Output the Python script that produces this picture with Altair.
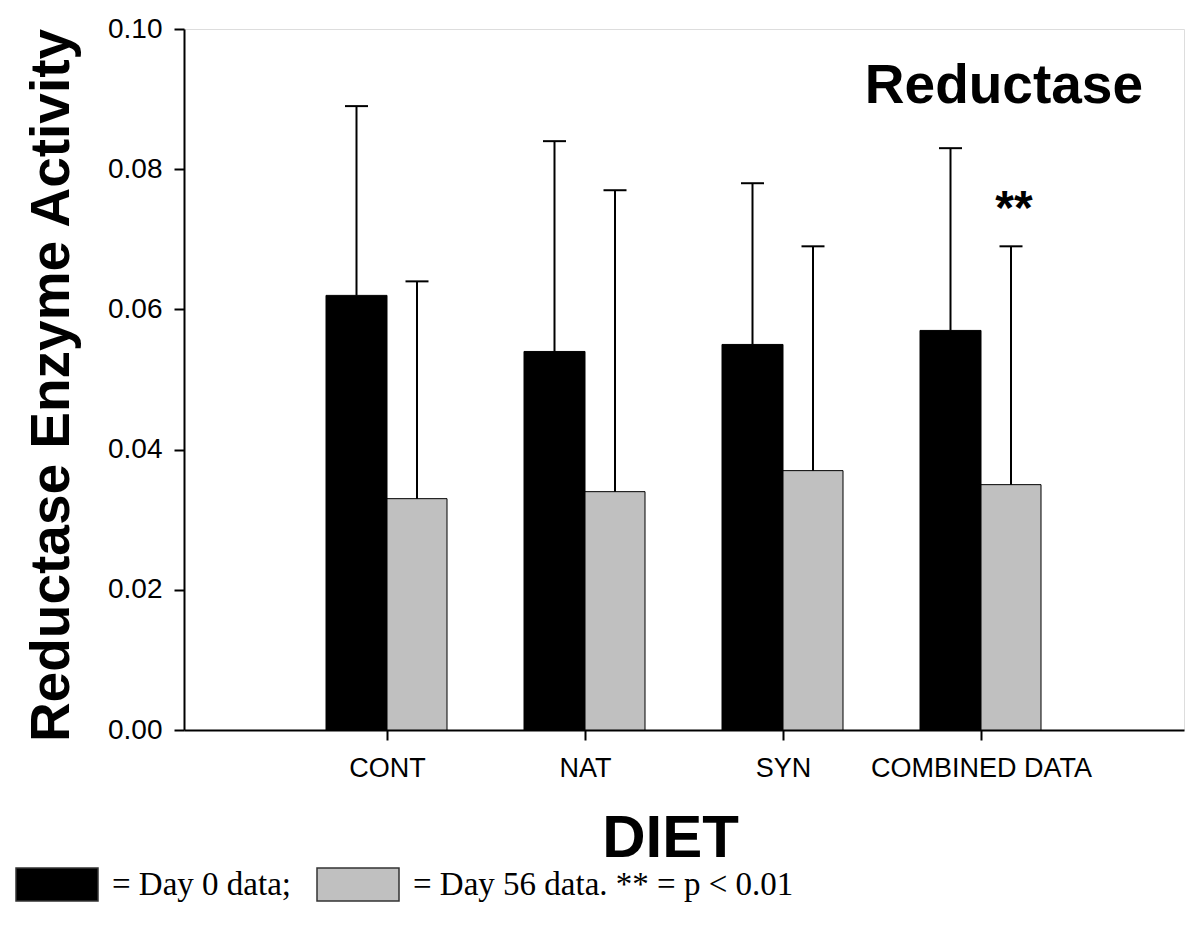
import altair as alt
import pandas as pd

categories = ["CONT", "NAT", "SYN", "COMBINED DATA"]
positions = [1, 2, 3, 4]
series_names = ["Day 0", "Day 56"]
legend_labels = ["= Day 0 data;", "= Day 56 data. ** = p < 0.01"]
day0_mean = [0.062, 0.054, 0.055, 0.057]
day0_upper = [0.089, 0.084, 0.078, 0.083]
day56_mean = [0.033, 0.034, 0.037, 0.035]
day56_upper = [0.064, 0.077, 0.069, 0.069]
y_ticks = [0.0, 0.02, 0.04, 0.06, 0.08, 0.10]
sig_category = "COMBINED DATA"
sig_label = "**"
panel_title = "Reductase"

rows = []
for i, c in enumerate(categories):
    rows.append({"cat": c, "pos": positions[i], "series": series_names[0],
                 "value": day0_mean[i], "upper": day0_upper[i]})
    rows.append({"cat": c, "pos": positions[i], "series": series_names[1],
                 "value": day56_mean[i], "upper": day56_upper[i]})
df = pd.DataFrame(rows)
sig_df = df[(df["cat"] == sig_category) & (df["series"] == series_names[1])].assign(label=sig_label)
title_df = pd.DataFrame({"label": [panel_title]})

FONT = "Liberation Sans"

label_expr = " : ".join(
    [f"datum.value == {p} ? '{c}'" for p, c in zip(positions, categories)]
) + " : ''"
legend_expr = f"datum.label == '{series_names[0]}' ? '{legend_labels[0]}' : '{legend_labels[1]}'"

x = alt.X(
    "pos:Q",
    scale=alt.Scale(domain=[0, 5], nice=False, zero=False),
    axis=alt.Axis(
        title="DIET", values=positions, labelExpr=label_expr, grid=False,
        labelFont=FONT, labelFontSize=27, labelColor="black", labelPadding=15,
        labelLimit=500,
        tickSize=10, tickWidth=2, tickColor="black",
        domainColor="black", domainWidth=2,
        titleFont=FONT, titleFontSize=60, titleFontWeight="bold", titleColor="black",
        titleX=486, titleY=126, titleBaseline="alphabetic", titleAlign="center",
    ),
)
y_axis = alt.Axis(
    title="Reductase Enzyme Activity", values=y_ticks, format=".2f", grid=False,
    labelFont=FONT, labelFontSize=28, labelColor="black", labelPadding=12,
    tickSize=10, tickWidth=2, tickColor="black",
    domainColor="black", domainWidth=2,
    titleFont=FONT, titleFontSize=55, titleFontWeight="bold", titleColor="black",
    titleX=-116, titleY=356, titleBaseline="alphabetic", titleAlign="center", titleAngle=-90,
)
y = alt.Y("value:Q", scale=alt.Scale(domain=[0, 0.1], nice=False), axis=y_axis)

color = alt.Color(
    "series:N",
    scale=alt.Scale(domain=series_names, range=["#000000", "#c0c0c0"]),
    legend=alt.Legend(
        title=None, orient="none", direction="horizontal",
        legendX=-169, legendY=838,
        symbolType="M-1,-1H3.97V1H-1Z", symbolSize=1089,
        symbolStrokeColor="#333333", symbolStrokeWidth=1.5, symbolOpacity=1,
        labelExpr=legend_expr, labelFont="Liberation Serif", labelFontSize=33,
        labelColor="black", labelOffset=62, labelLimit=800, columnPadding=23,
        labelBaseline="middle",
    ),
)

base = alt.Chart(df)
bar0 = base.transform_filter(alt.datum.series == series_names[0]).mark_bar(
    width=61, xOffset=-30.5, stroke="black", strokeWidth=1
).encode(x=x, y=y, color=color)
bar1 = base.transform_filter(alt.datum.series == series_names[1]).mark_bar(
    width=60, xOffset=30, stroke="black", strokeWidth=1
).encode(x=x, y=y, color=color)

err0 = base.transform_filter(alt.datum.series == series_names[0]).mark_rule(
    xOffset=-30.5, strokeWidth=2, color="black"
).encode(x=x, y=y, y2="upper:Q")
err1 = base.transform_filter(alt.datum.series == series_names[1]).mark_rule(
    xOffset=30, strokeWidth=2, color="black"
).encode(x=x, y=y, y2="upper:Q")
cap0 = base.transform_filter(alt.datum.series == series_names[0]).mark_tick(
    orient="horizontal", xOffset=-30.5, size=23, thickness=2, color="black", opacity=1
).encode(x=x, y=alt.Y("upper:Q"))
cap1 = base.transform_filter(alt.datum.series == series_names[1]).mark_tick(
    orient="horizontal", xOffset=30, size=23, thickness=2, color="black", opacity=1
).encode(x=x, y=alt.Y("upper:Q"))

sig = alt.Chart(sig_df).mark_text(
    xOffset=33, dy=-22, baseline="alphabetic", align="center",
    font=FONT, fontSize=48, fontWeight="bold", color="black"
).encode(x=x, y=alt.Y("upper:Q"), text="label:N")

title_text = alt.Chart(title_df).mark_text(
    align="right", baseline="alphabetic",
    font=FONT, fontSize=55, fontWeight="bold", color="black"
).encode(x=alt.value(959), y=alt.value(74), text="label:N")

chart = alt.layer(bar0, bar1, err0, err1, cap0, cap1, sig, title_text).properties(
    width=1000, height=701,
    autosize=alt.AutoSizeParams(type="none"),
    padding={"left": 176, "top": 21, "right": 8, "bottom": 200},
).configure_view(stroke="black", strokeWidth=2).configure(background="white")

chart.save("out.html", embed_options={"renderer": "svg", "actions": False})
